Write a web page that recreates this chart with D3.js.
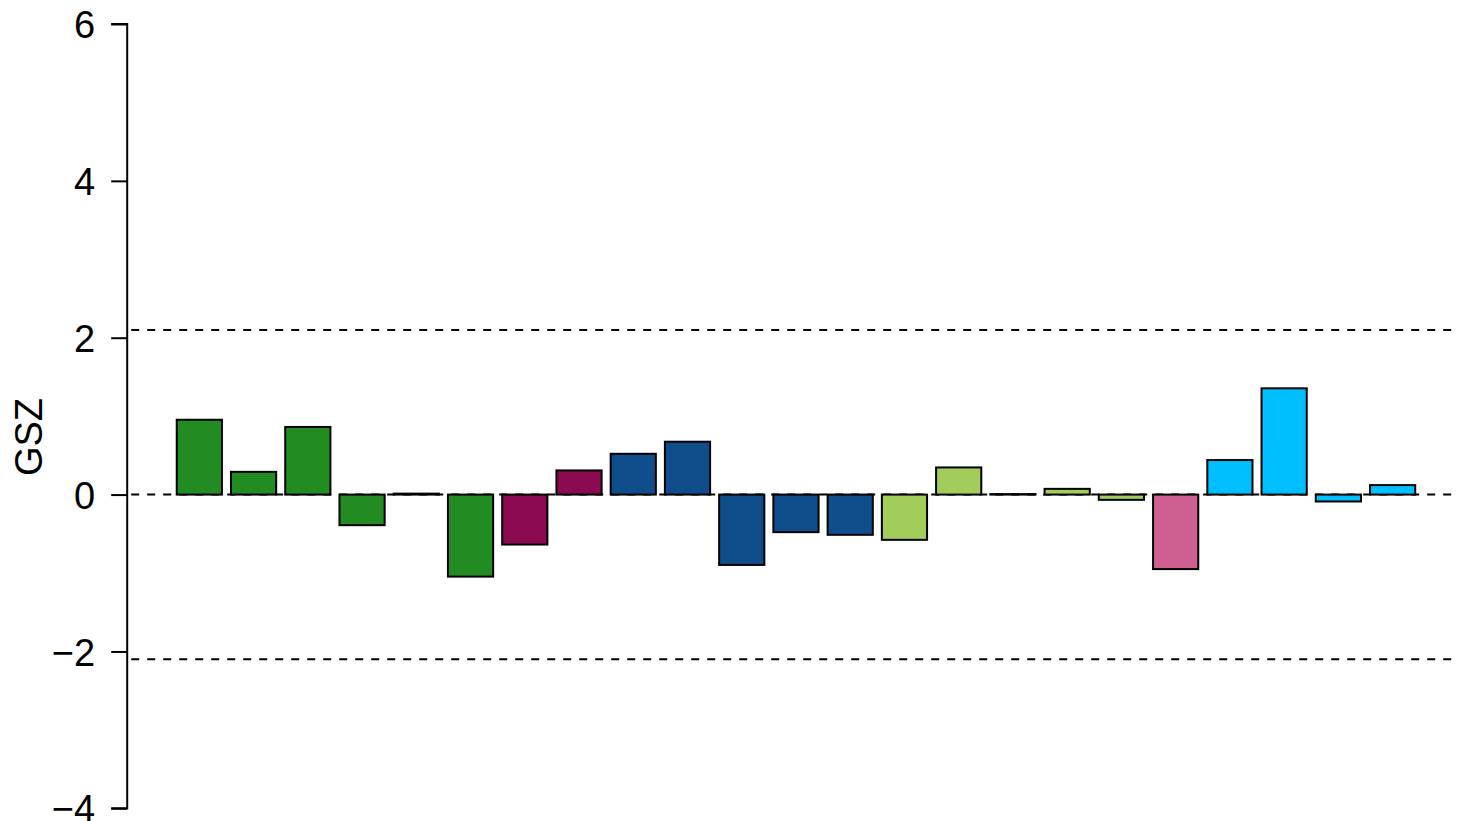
<!DOCTYPE html>
<html>
<head>
<meta charset="utf-8">
<script src="https://cdn.jsdelivr.net/npm/d3@7"></script>
<style>
  html, body { margin: 0; padding: 0; background: #fff; }
  svg { display: block; font-family: "Liberation Sans", Arial, sans-serif; }
</style>
</head>
<body>
<svg id="chart" width="1458" height="821"></svg>
<script>
// == Daten ==
// GSZ-Werte pro Balken (von links nach rechts)
const gszValues = [0.954, 0.29, 0.862, -0.39, 0.012, -1.046, -0.637, 0.308, 0.52, 0.674,
                   -0.897, -0.479, -0.513, -0.577, 0.346, 0.006, 0.073, -0.067, -0.95,
                   0.44, 1.355, -0.088, 0.121];
// Gruppe je Balken (bestimmt die Farbe)
const barGroups = ['A', 'A', 'A', 'A', 'A', 'A', 'B', 'B', 'C', 'C',
                   'C', 'C', 'C', 'D', 'D', 'D', 'D', 'D', 'E',
                   'F', 'F', 'F', 'F'];
const groupNames = ['A', 'B', 'C', 'D', 'E', 'F'];
const groupColors = ['#228B22', '#8B0A50', '#104E8B', '#A2CD5A', '#CD6090', '#00BFFF'];
const yTicks = [-4, -2, 0, 2, 4, 6];
// Schwellenwerte (gestrichelte Linien)
const refLines = [2.1, 0, -2.1];

// == Layout (wie R barplot, space = 0.2) ==
const SPACE = 0.2;
const n = gszValues.length;
const xMin = SPACE, xMax = n * (1 + SPACE);
const pad = (xMax - xMin) * 0.04;

const svg = d3.select('#chart');
const x = d3.scaleLinear()
    .domain([xMin - pad, xMax + pad])
    .range([127.2, 127.2 + (xMax - xMin + 2 * pad) * 45.2]);
const y = d3.scaleLinear().domain([-4, 6]).range([808.3, 24]);
const color = d3.scaleOrdinal().domain(groupNames).range(groupColors);

// gestrichelte Linien
svg.append('g')
    .selectAll('line')
    .data(refLines)
    .enter()
    .append('line')
    .attr('x1', x.range()[0])
    .attr('x2', x.range()[1])
    .attr('y1', d => y(d))
    .attr('y2', d => y(d))
    .attr('stroke', '#000')
    .attr('stroke-width', 2)
    .attr('stroke-dasharray', '8,8')
    .attr('stroke-dashoffset', -4);

// Balken
svg.append('g')
    .selectAll('rect')
    .data(gszValues)
    .enter()
    .append('rect')
    .attr('x', (d, i) => x(SPACE + i * (1 + SPACE)))
    .attr('width', (d, i) => x(1 + SPACE + i * (1 + SPACE)) - x(SPACE + i * (1 + SPACE)))
    .attr('y', d => y(Math.max(0, d)))
    .attr('height', d => Math.abs(y(d) - y(0)))
    .attr('fill', (d, i) => color(barGroups[i]))
    .attr('stroke', '#000')
    .attr('stroke-width', 2);

// Y-Achse
const yAxis = d3.axisLeft(y)
    .tickValues(yTicks)
    .tickSize(16)
    .tickPadding(16)
    .tickFormat(d => d < 0 ? '\u2212' + Math.abs(d) : d);
const axisG = svg.append('g')
    .attr('transform', `translate(${x.range()[0]},0)`)
    .call(yAxis);
axisG.select('.domain')
    .attr('stroke-width', 2)
    .attr('d', `M-16,${y(6)}H0V${y(-4)}H-16`);
axisG.selectAll('.tick line').attr('stroke-width', 2);
axisG.selectAll('.tick text')
    .attr('font-size', 38)
    .attr('font-family', '"Liberation Sans", Arial, sans-serif')
    .attr('fill', '#000')
    .attr('dy', '0.36em');

// Achsenbeschriftung
svg.append('text')
    .attr('transform', 'translate(42,437) rotate(-90)')
    .attr('text-anchor', 'middle')
    .attr('font-size', 38)
    .attr('fill', '#000')
    .text('GSZ');
</script>
</body>
</html>
